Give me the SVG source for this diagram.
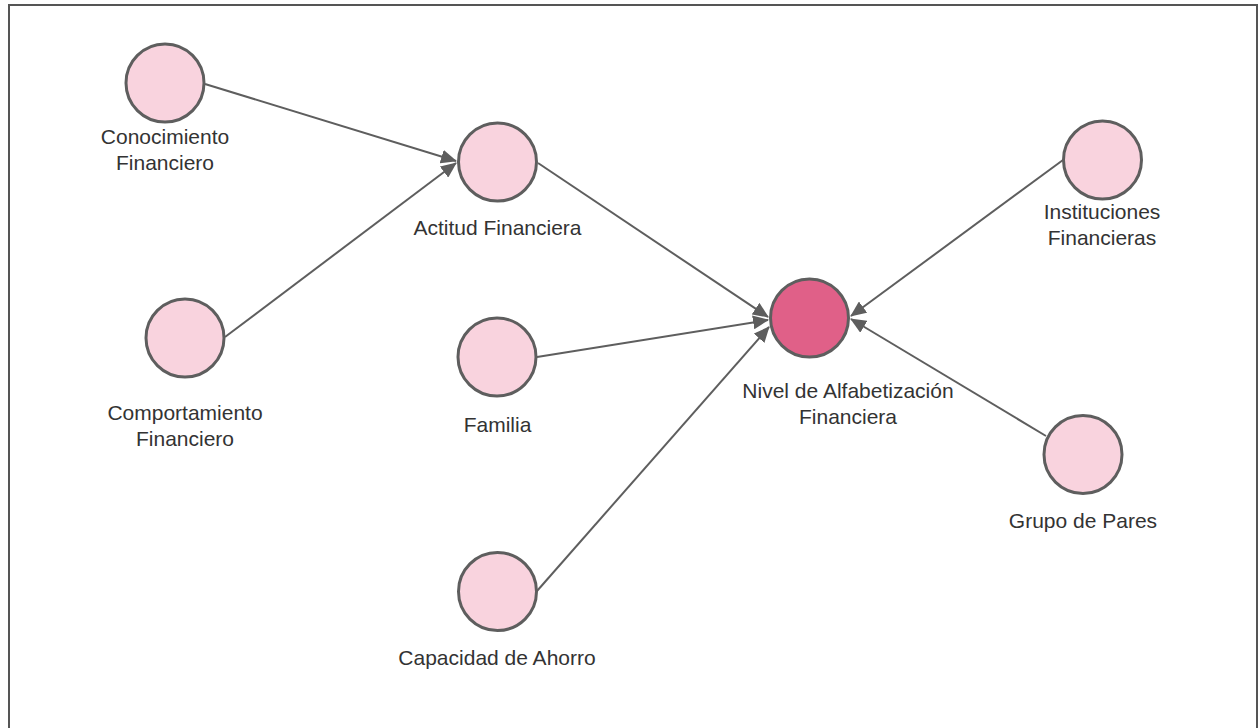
<svg xmlns="http://www.w3.org/2000/svg" width="1259" height="728" viewBox="0 0 1259 728">
  <style>
    .node { fill: #f9d3de; stroke: #5e5e5e; stroke-width: 3; }
    .node.main { fill: #e06088; }
    .edge { fill: none; stroke: #5e5e5e; stroke-width: 2; }
    .label { font-family: "Liberation Sans", Arial, sans-serif; font-size: 21px; fill: #333333; text-anchor: middle; }
  </style>
  <defs>
    <marker id="arrow" markerUnits="userSpaceOnUse" markerWidth="16" markerHeight="14" viewBox="0 0 16 14" refX="15" refY="7" orient="auto">
      <path d="M0,0 L16,7 L0,14 Z" fill="#5e5e5e"/>
    </marker>
  </defs>

  <rect x="0" y="0" width="1259" height="728" fill="#ffffff"/>
  <!-- outer frame (bottom edge runs past the canvas) -->
  <path d="M9,740 L9,5 L1257,5 L1257,740" fill="none" stroke="#555555" stroke-width="2"/>

  <g id="connectors">
    <line class="edge" x1="205" y1="84" x2="456" y2="161" marker-end="url(#arrow)"/>
    <line class="edge" x1="225" y1="337" x2="456" y2="163" marker-end="url(#arrow)"/>
    <line class="edge" x1="538" y1="163" x2="768" y2="317" marker-end="url(#arrow)"/>
    <line class="edge" x1="537" y1="357" x2="768" y2="320" marker-end="url(#arrow)"/>
    <line class="edge" x1="537" y1="591" x2="769" y2="327" marker-end="url(#arrow)"/>
    <line class="edge" x1="1063" y1="160" x2="851" y2="316" marker-end="url(#arrow)"/>
    <line class="edge" x1="1046" y1="436" x2="851" y2="319" marker-end="url(#arrow)"/>
  </g>

  <g id="conocimiento">
    <circle class="node" cx="165" cy="83" r="39"/>
    <text class="label" x="165" y="144">Conocimiento</text>
    <text class="label" x="165" y="170">Financiero</text>
  </g>

  <g id="comportamiento">
    <circle class="node" cx="185" cy="338" r="39"/>
    <text class="label" x="185" y="420">Comportamiento</text>
    <text class="label" x="185" y="446">Financiero</text>
  </g>

  <g id="actitud">
    <circle class="node" cx="497.5" cy="162" r="39"/>
    <text class="label" x="497.5" y="235">Actitud Financiera</text>
  </g>

  <g id="familia">
    <circle class="node" cx="497" cy="357" r="39"/>
    <text class="label" x="497.5" y="432">Familia</text>
  </g>

  <g id="capacidad">
    <circle class="node" cx="497.5" cy="591.5" r="39"/>
    <text class="label" x="497" y="665">Capacidad de Ahorro</text>
  </g>

  <g id="nivel">
    <circle class="node main" cx="809.5" cy="318" r="39"/>
    <text class="label" x="848" y="398">Nivel de Alfabetización</text>
    <text class="label" x="848" y="424">Financiera</text>
  </g>

  <g id="instituciones">
    <circle class="node" cx="1102.5" cy="160" r="39"/>
    <text class="label" x="1102" y="219">Instituciones</text>
    <text class="label" x="1102" y="245">Financieras</text>
  </g>

  <g id="grupo">
    <circle class="node" cx="1083" cy="454.5" r="39"/>
    <text class="label" x="1083" y="528">Grupo de Pares</text>
  </g>
</svg>
